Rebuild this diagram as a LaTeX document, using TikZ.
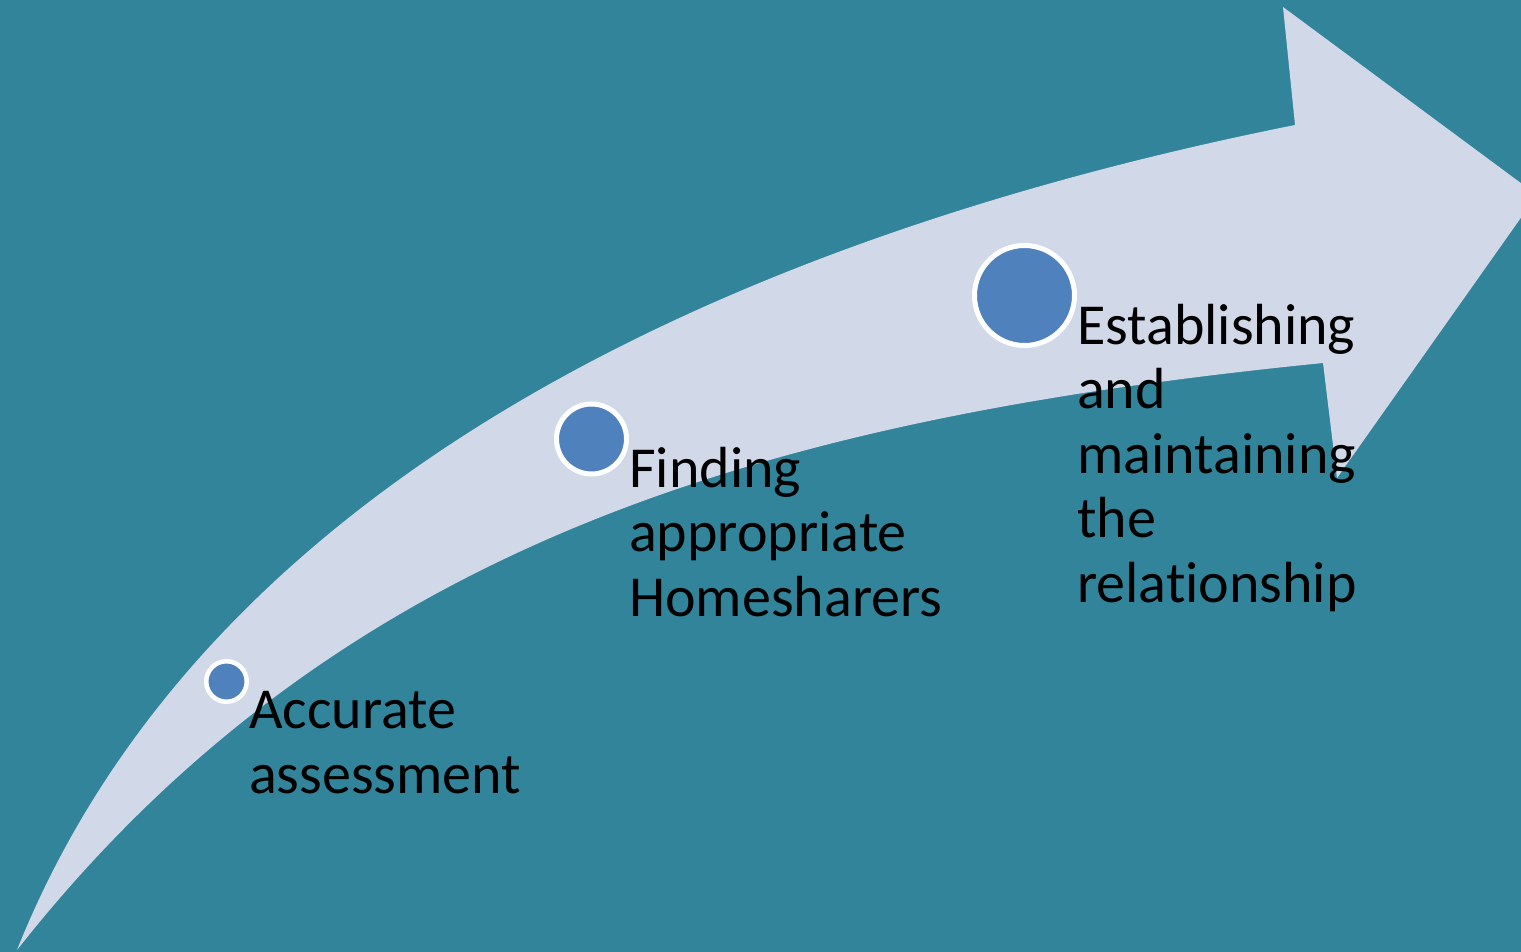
\documentclass[tikz,border=0pt]{standalone}
\usepackage{fontspec}
\setmainfont{Carlito}[Ligatures=NoCommon]
\definecolor{bgteal}{HTML}{32849B}
\definecolor{arrowfill}{HTML}{D1D8E8}
\definecolor{dotblue}{HTML}{4F81BD}
\begin{document}
\begin{tikzpicture}[x=1pt,y=-1pt,
  stepdot/.style={circle, fill=dotblue, draw=white, inner sep=0pt},
  txt/.style={anchor=base west, align=left, inner sep=0pt, font=\fontsize{58}{64.5}\selectfont, text=black}]
\useasboundingbox (0,0) rectangle (1521,952);
\clip (0,0) rectangle (1521,952);
\fill[bgteal] (0,0) rectangle (1521,952);
\fill[arrowfill] (17,950) .. controls (217,450) and (795,225) .. (1295,125)
  -- (1283,7) -- (1537,195) -- (1337,478) -- (1323,363)
  .. controls (773,418) and (340,540) .. (17,950) -- cycle;
\node[stepdot, minimum size=40.5pt, line width=4.5pt] (d1) at (226.5,681.5) {};
\node[stepdot, minimum size=70pt, line width=5pt] (d2) at (591.5,439) {};
\node[stepdot, minimum size=100pt, line width=5pt] (d3) at (1024.5,295.5) {};
\node[txt] (t1) at (249,793) {Accurate\\assessment};
\node[txt] (t2) at (629,616) {Finding\\appropriate\\Homesharers};
\node[txt] (t3) at (1077,602) {Establishing\\and\\maintaining\\the\\relationship};
\end{tikzpicture}
\end{document}
